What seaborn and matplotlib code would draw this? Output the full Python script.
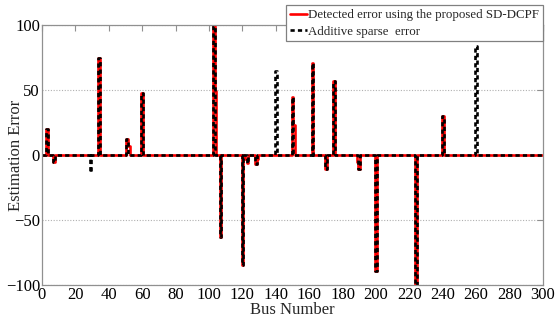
import numpy as np
import pandas as pd
import matplotlib
matplotlib.use("Agg")
import matplotlib.pyplot as plt
import seaborn as sns

# ---- data ----
n_bus = 300
# Additive sparse error (true injected values)
true_bus = [3, 7, 29, 34, 51, 60, 103, 107, 120, 123, 128, 140, 150, 162, 170, 175, 190, 200, 224, 240, 260]
true_val = [20, -5, -13, 75, 12, 48, 99, -63, -85, -6, -7, 65, 45, 71, -11, 57, -11, -89, -100, 30, 84]
# Detected error using SD-DCPF
det_bus = [3, 7, 34, 51, 52, 60, 103, 104, 107, 120, 122, 123, 128, 129, 150, 151, 162, 170, 175, 189, 190, 200, 224, 240]
det_val = [20, -5, 75, 12, 7, 48, 99, 49, -63, -85, -3, -6, -7, -3, 45, 23, 71, -11, 57, -5, -11, -89, -100, 30]

bus = np.arange(0, n_bus + 1)
true_err = np.zeros(bus.size)
true_err[true_bus] = true_val
det_err = np.zeros(bus.size)
det_err[det_bus] = det_val

df = pd.DataFrame({"bus": bus, "true": true_err, "det": det_err})

# ---- style ----
sns.set_theme(style="white")
plt.rcParams["font.family"] = ["Liberation Serif", "DejaVu Serif"]
plt.rcParams["mathtext.fontset"] = "stix"

fig = plt.figure(figsize=(5.56, 3.18), dpi=100)
ax = fig.add_axes([0.0755, 0.104, 0.901, 0.817])

dash = (0, (1.6, 1.2))
sns.lineplot(data=df, x="bus", y="det", ax=ax, color="#ff0000", linewidth=1.9,
             drawstyle="steps-mid", label="Detected error using the proposed SD-DCPF")
sns.lineplot(data=df, x="bus", y="true", ax=ax, color="black", linewidth=1.9,
             drawstyle="steps-mid", label="Additive sparse  error")
ax.lines[1].set_linestyle(dash)

ax.set_xlim(0, 300)
ax.set_ylim(-100, 100)
ax.set_xticks(np.arange(0, 301, 20))
ax.set_yticks([-100, -50, 0, 50, 100])
ax.yaxis.grid(True, linestyle=(0, (1, 1.5)), color="#b0b0b0", linewidth=0.8)
ax.xaxis.grid(False)
ax.set_axisbelow(True)

ax.set_xlabel("Bus Number", fontsize=12, labelpad=-1)
ax.set_ylabel("Estimation Error", fontsize=12)
ax.yaxis.set_label_coords(-0.036, 0.5)
ax.tick_params(axis="both", direction="in", length=4, width=0.8, colors="#909090",
               labelcolor="black", labelsize=12, top=True, right=True, pad=1.5)
for s in ax.spines.values():
    s.set_color("#909090")
    s.set_linewidth(0.9)

leg = ax.legend(loc="upper right", bbox_to_anchor=(1.0, 1.077), fontsize=9.3,
                frameon=True, fancybox=False, handlelength=1.3, handletextpad=0.1,
                borderpad=0.3, labelspacing=0.35, borderaxespad=0)
leg.get_frame().set_edgecolor("#808080")
leg.get_frame().set_linewidth(0.9)
leg.get_frame().set_alpha(1)
for ln in leg.get_lines():
    ln.set_drawstyle("default")
leg.get_lines()[1].set_linestyle(dash)

fig.savefig("out.png", dpi=100)
